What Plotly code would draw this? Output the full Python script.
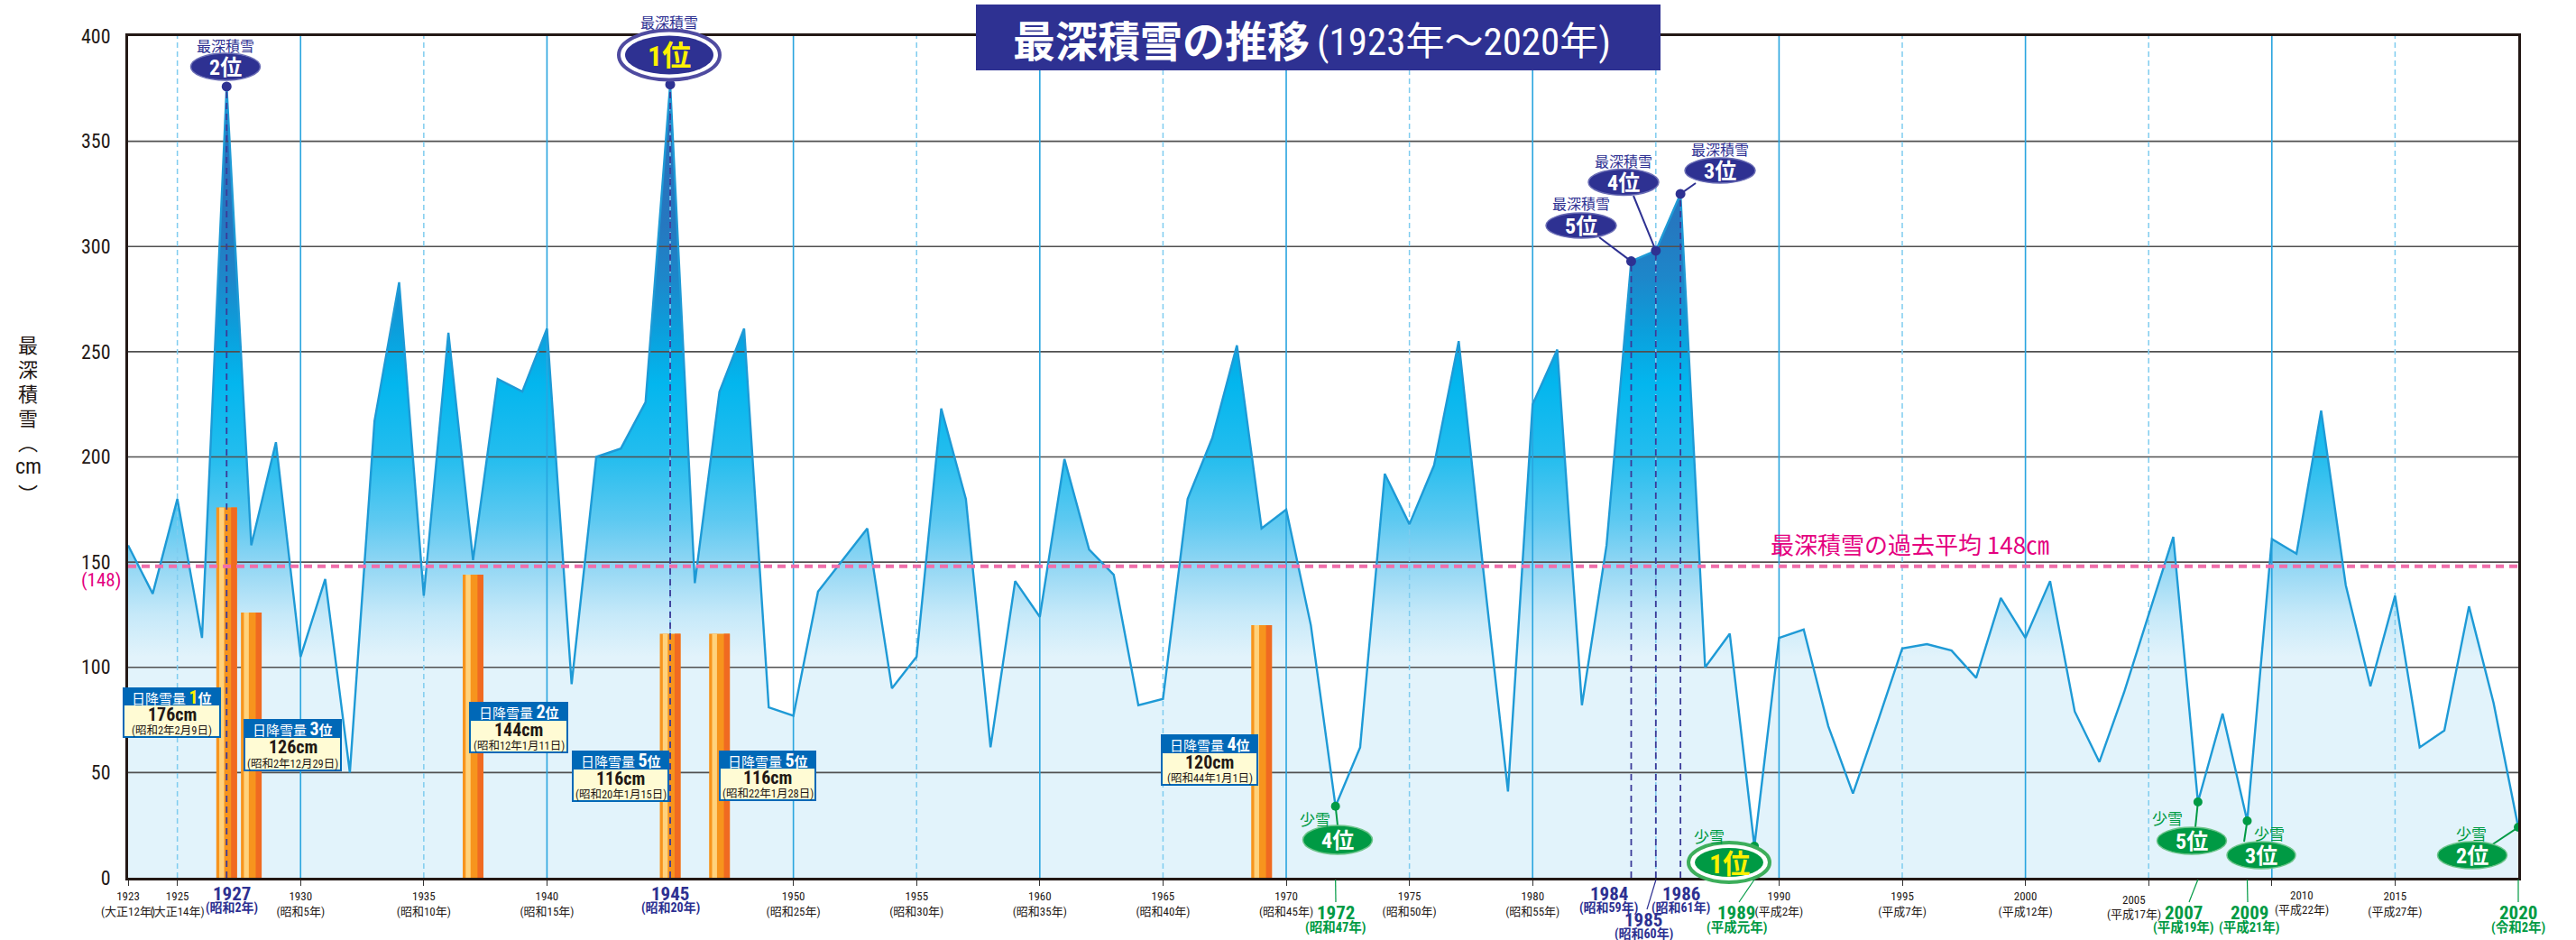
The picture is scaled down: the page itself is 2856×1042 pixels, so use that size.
import plotly.graph_objects as go

# ---------------- data ----------------
YEARS = list(range(1923, 2021))
DEPTH = [158, 135, 180, 114, 376, 158, 207, 105, 142, 50,
         217, 283, 134, 259, 151, 237, 231, 261, 92, 200,
         204, 226, 377, 140, 231, 261, 81, 77, 136, 151,
         166, 90, 105, 223, 180, 62, 141, 124, 199, 156,
         144, 82, 85, 180, 209, 253, 166, 175, 120, 34,
         62, 192, 168, 196, 255, 146, 41, 225, 251, 82,
         158, 293, 298, 325, 100, 116, 15, 114, 118, 72,
         40, 74, 109, 111, 108, 95, 133, 114, 141, 79,
         55, 88, 125, 162, 36, 78, 27, 161, 154, 222,
         139, 91, 134, 62, 70, 129, 83, 24]
assert len(DEPTH) == len(YEARS)
AVG = 148

DAILY_YEARS = [1927, 1928, 1937, 1945, 1947, 1969]
DAILY_VALUES = [176, 126, 144, 116, 116, 120]
DAILY_RANKS = [1, 3, 2, 5, 5, 4]
DAILY_DATES = ["(昭和2年2月9日)", "(昭和2年12月29日)", "(昭和12年1月11日)",
               "(昭和20年1月15日)", "(昭和22年1月28日)", "(昭和44年1月1日)"]

DEEP_YEARS = [1945, 1927, 1986, 1985, 1984]      # 最深積雪 1位..5位
DEEP_ERAS = ["昭和20年", "昭和2年", "昭和61年", "昭和60年", "昭和59年"]
LOW_YEARS = [1989, 2020, 2009, 1972, 2007]       # 少雪 1位..5位
LOW_ERAS = ["平成元年", "令和2年", "平成21年", "昭和47年", "平成19年"]

TICK_YEARS = [1923, 1925, 1930, 1935, 1940, 1950, 1955, 1960, 1965, 1970,
              1975, 1980, 1990, 1995, 2000, 2005, 2010, 2015]
TICK_ERAS = ["大正12年", "大正14年", "昭和5年", "昭和10年", "昭和15年", "昭和25年",
             "昭和30年", "昭和35年", "昭和40年", "昭和45年", "昭和50年", "昭和55年",
             "平成2年", "平成7年", "平成12年", "平成17年", "平成22年", "平成27年"]
# tick labels drawn off their gridline in the original (label centre in px, year-line y in px)
OFFSET_TICKS = {2005: (2366, 997), 2010: (2552, 992)}
Y_TICKS = [0, 50, 100, 150, 200, 250, 300, 350, 400]
GRID_SOLID = [1930, 1940, 1950, 1960, 1970, 1980, 1990, 2000, 2010]
GRID_DASH = [1925, 1935, 1945, 1955, 1965, 1975, 1985, 1995, 2005, 2015]

X0, X1 = 1923, 2020
Y0, Y1 = 0, 400
VAL = dict(zip(YEARS, DEPTH))

# ---------------- style ----------------
NARROW = "'Liberation Sans Narrow', 'Arial Narrow', 'Roboto Condensed', 'Noto Sans CJK JP', sans-serif"
JP = "'Noto Sans CJK JP', 'Noto Sans', sans-serif"
NAVY = "#2E3192"
GREEN = "#009A44"
PINK = "#E4007F"
LINEBLUE = "#1E9AD6"
INK = "#231815"

FIG_W, FIG_H = 2856, 1042
L, R, T, B = 142, 2792, 40, 973
W, H = R - L, B - T


def PX(X):
    return (X - L) / W


def PY(Y):
    return (B - Y) / H


def YR(X):
    return X0 + (X - L) / W * (X1 - X0)


def VY(Y):
    return (B - Y) / H * (Y1 - Y0)


shapes = []
annotations = []


def rect(x0, y0, x1, y1, fill, lc=None, lw=0):
    shapes.append(dict(type="rect", xref="paper", yref="paper", x0=PX(x0), x1=PX(x1),
                       y0=PY(y1), y1=PY(y0), fillcolor=fill,
                       line=dict(color=lc or fill, width=lw), layer="above"))


def ellipse(cx, cy, w, h, fill, lc=None, lw=0):
    shapes.append(dict(type="circle", xref="paper", yref="paper", x0=PX(cx - w / 2), x1=PX(cx + w / 2),
                       y0=PY(cy + h / 2), y1=PY(cy - h / 2), fillcolor=fill,
                       line=dict(color=lc or fill, width=lw), layer="above"))


def pline(xa, ya, xb, yb, color, width=1.5, dash="solid"):
    shapes.append(dict(type="line", xref="paper", yref="paper", x0=PX(xa), y0=PY(ya), x1=PX(xb), y1=PY(yb),
                       line=dict(color=color, width=width, dash=dash), layer="above"))


def dline(year, X, Y, color, width=2):
    shapes.append(dict(type="line", xref="x", yref="y", x0=year, y0=VAL[year], x1=YR(X), y1=VY(Y),
                       line=dict(color=color, width=width), layer="above"))


def text(X, Y, s, size, color, family=JP, xanchor="center", yanchor="middle"):
    annotations.append(dict(xref="paper", yref="paper", x=PX(X), y=PY(Y), text=s, showarrow=False,
                            font=dict(size=size, color=color, family=family),
                            xanchor=xanchor, yanchor=yanchor, borderpad=0))


# ---------------- traces ----------------
fig = go.Figure()

CS = [[0.0, "#E2F3FB"], [105 / 400, "#E2F3FB"], [125 / 400, "#C6E9F9"], [148 / 400, "#93D7F4"],
      [170 / 400, "#5DC9F1"], [200 / 400, "#24BDEE"], [235 / 400, "#03B6EE"], [260 / 400, "#0B9FDC"],
      [285 / 400, "#1D87CA"], [310 / 400, "#2578C0"], [1.0, "#2A6CB8"]]

fig.add_trace(go.Scatter(x=YEARS, y=DEPTH, mode="lines", fill="tozeroy",
                         fillgradient=dict(type="vertical", colorscale=CS, start=0, stop=400),
                         line=dict(width=0, color=LINEBLUE), hoverinfo="skip", showlegend=False))

# gridlines (drawn above the fill)
gx, gy = [], []
for v in Y_TICKS[1:-1]:
    gx += [X0, X1, None]
    gy += [v, v, None]
fig.add_trace(go.Scatter(x=gx, y=gy, mode="lines", line=dict(color="#505050", width=1.6),
                         hoverinfo="skip", showlegend=False))
sx, sy = [], []
for g in GRID_SOLID:
    sx += [g, g, None]
    sy += [Y0, Y1, None]
fig.add_trace(go.Scatter(x=sx, y=sy, mode="lines", line=dict(color="#2AA5DF", width=1.6),
                         hoverinfo="skip", showlegend=False))
dx, dy = [], []
for g in GRID_DASH:
    dx += [g, g, None]
    dy += [Y0, Y1, None]
fig.add_trace(go.Scatter(x=dx, y=dy, mode="lines", line=dict(color="#7FCCEF", width=1.5, dash="6px,4px"),
                         hoverinfo="skip", showlegend=False))

fig.add_trace(go.Scatter(x=YEARS, y=DEPTH, mode="lines", line=dict(color=LINEBLUE, width=2.4),
                         hoverinfo="skip", showlegend=False))

# overlay subplot: bars, average line, markers
fig.add_trace(go.Bar(x=DAILY_YEARS, y=DAILY_VALUES, width=0.84, marker=dict(color="#F7941D", line=dict(width=0)),
                     xaxis="x2", yaxis="y2", hoverinfo="skip", showlegend=False))
fig.add_trace(go.Bar(x=DAILY_YEARS, y=DAILY_VALUES, width=0.2, offset=-0.3,
                     marker=dict(color="#FFD27C", line=dict(width=0)),
                     xaxis="x2", yaxis="y2", hoverinfo="skip", showlegend=False))
fig.add_trace(go.Bar(x=DAILY_YEARS, y=DAILY_VALUES, width=0.24, offset=0.18,
                     marker=dict(color="#F06A21", line=dict(width=0)),
                     xaxis="x2", yaxis="y2", hoverinfo="skip", showlegend=False))

fig.add_trace(go.Scatter(x=[X0, X1], y=[AVG, AVG], mode="lines",
                         line=dict(color="#F06EAA", width=4, dash="9px,6px"),
                         xaxis="x2", yaxis="y2", hoverinfo="skip", showlegend=False))

nx, ny = [], []
for yr in DEEP_YEARS:
    nx += [yr, yr, None]
    ny += [0, VAL[yr], None]
fig.add_trace(go.Scatter(x=nx, y=ny, mode="lines", line=dict(color="#3B3A98", width=1.8, dash="7px,5px"),
                         xaxis="x2", yaxis="y2", hoverinfo="skip", showlegend=False))
fig.add_trace(go.Scatter(x=DEEP_YEARS, y=[VAL[y] for y in DEEP_YEARS], mode="markers",
                         marker=dict(color=NAVY, size=11), xaxis="x2", yaxis="y2",
                         hoverinfo="skip", showlegend=False))
fig.add_trace(go.Scatter(x=LOW_YEARS, y=[VAL[y] for y in LOW_YEARS], mode="markers",
                         marker=dict(color=GREEN, size=10), xaxis="x2", yaxis="y2",
                         hoverinfo="skip", showlegend=False))

# ---------------- decorations ----------------
# title
rect(1082, 5, 1841, 78, NAVY)
text(1453, 43, "<b>最深積雪の推移</b>", 47, "white", JP, xanchor="right")
text(1459, 46, "(1923年〜2020年)", 43, "white", NARROW, xanchor="left")

# y axis title (vertical)
for ch, yy, fs, fam in [("最", 381, 22, JP), ("深", 408, 22, JP), ("積", 435, 22, JP), ("雪", 462, 22, JP),
                        ("︵", 489, 22, JP), ("cm", 517, 24, NARROW), ("︶", 546, 22, JP)]:
    text(31, yy, ch, fs, INK, fam)

# (148)
text(112, 643, "(148)", 21, PINK, NARROW)
# average label
text(2117, 602, "最深積雪の過去平均 148㎝", 26, PINK, JP)

# tick labels that sit off their gridline
for yr, era in zip(TICK_YEARS, TICK_ERAS):
    if yr in OFFSET_TICKS:
        lx, ly = OFFSET_TICKS[yr]
        text(lx, ly, str(yr), 13, INK, NARROW)
        text(lx, ly + 16, f"({era})", 13, INK, NARROW)

# daily snowfall boxes
BOXES = [(137, 244, 763, 781, 817), (271, 378, 798, 817, 854), (521, 629, 779, 798, 834),
         (635, 741, 833, 852, 888), (798, 904, 833, 851, 887), (1288, 1394, 815, 834, 870)]
for (bx0, bx1, hy0, hy1, by1), rank, val, date in zip(BOXES, DAILY_RANKS, DAILY_VALUES, DAILY_DATES):
    rect(bx0, hy0, bx1, by1, "#FFFBD4", "#0068B7", 2)
    rect(bx0, hy0, bx1, hy1, "#0068B7", "#0068B7", 2)
    cx = (bx0 + bx1) / 2
    numcol = "#FFF100" if rank == 1 else "white"
    text(cx, (hy0 + hy1) / 2 + 0.5,
         f"日降雪量 <b><span style='font-size:20px;color:{numcol}'>{rank}</span>位</b>", 15, "white", NARROW)
    text(cx, hy1 + 11, f"<b>{val}cm</b>", 20, INK, NARROW)
    text(cx, by1 - 8, date, 12.5, INK, NARROW)

# navy badges (最深積雪)
NAVY_BADGES = [  # year, cx, cy, w, h, label_y, connector end
    (1927, 250, 74, 77, 30, 50, None),
    (1945, 742, 61, 112, 55, 24, None),
    (1984, 1753, 250, 78, 28, 225, (1773, 263)),
    (1985, 1800, 202, 78, 29, 178, (1811, 217)),
    (1986, 1907, 189, 78, 28, 165, (1880, 203)),
]
for yr, cx, cy, w, h, ly, conn in NAVY_BADGES:
    rank = DEEP_YEARS.index(yr) + 1
    if conn:
        dline(yr, conn[0], conn[1], NAVY, 2)
    if rank == 1:
        ellipse(cx, cy, w, h, "white", "#4F4BA0", 4)
        ellipse(cx, cy, w - 14, h - 12, NAVY)
        text(cx, cy + 1, f"<b>{rank}位</b>", 32, "#FFF100", NARROW)
    else:
        ellipse(cx, cy, w, h, NAVY, "#6A6DB5", 1.5)
        text(cx, cy + 1, f"<b>{rank}位</b>", 24, "white", NARROW)
    text(cx, ly, "最深積雪", 16, NAVY, JP)

# green badges (少雪)
GREEN_BADGES = [
    (1972, 1483, 931, 77, 32, (1458, 907), (1483, 915)),
    (1989, 1917, 956, 90, 44, (1895, 926), None),
    (2007, 2430, 932, 77, 30, (2403, 906), (2434, 917)),
    (2009, 2507, 948, 76, 30, (2516, 923), (2488, 933)),
    (2020, 2741, 948, 77, 30, (2740, 923), (2762, 937)),
]
for yr, cx, cy, w, h, lpos, conn in GREEN_BADGES:
    rank = LOW_YEARS.index(yr) + 1
    if conn:
        dline(yr, conn[0], conn[1], GREEN, 2)
    if rank == 1:
        ellipse(cx, cy, w, h, "white", "#3DAE5B", 4)
        ellipse(cx, cy, w - 14, h - 12, GREEN)
        text(cx, cy + 1, f"<b>{rank}位</b>", 30, "#FFF100", NARROW)
    else:
        ellipse(cx, cy, w, h, GREEN, "#6CC48A", 1.5)
        text(cx, cy + 1, f"<b>{rank}位</b>", 24, "white", NARROW)
    text(lpos[0], lpos[1], "少雪", 17, GREEN, JP)

# special year labels below the axis
NAVY_LABELS = {1927: (257, 991), 1945: (743, 991), 1984: (1784, 991), 1985: (1822, 1020), 1986: (1864, 991)}
for yr, era in zip(DEEP_YEARS, DEEP_ERAS):
    lx, lyy = NAVY_LABELS[yr]
    text(lx, lyy, f"<b>{yr}</b>", 21, NAVY, NARROW)
    text(lx, lyy + 15, f"<b>({era})</b>", 14, NAVY, NARROW)
pline(1836, 975, 1826, 1008, NAVY, 1.2)

GREEN_LABELS = {1972: (1481, 1012), 1989: (1925, 1012), 2007: (2421, 1012), 2009: (2494, 1012), 2020: (2792, 1012)}
GREEN_TICKS = {1972: (1481, 1000), 1989: (1928, 1000), 2007: (2427, 1000), 2009: (2492, 1000), 2020: (2792, 1000)}
for yr, era in zip(LOW_YEARS, LOW_ERAS):
    lx, lyy = GREEN_LABELS[yr]
    text(lx, lyy, f"<b>{yr}</b>", 21, GREEN, NARROW)
    text(lx, lyy + 16, f"<b>({era})</b>", 14.5, GREEN, NARROW)
    tx = L + (yr - X0) / (X1 - X0) * W
    ex, ey = GREEN_TICKS[yr]
    pline(tx, 975, ex, ey, GREEN, 1.2)

# ---------------- layout ----------------
fig.update_layout(
    width=FIG_W, height=FIG_H,
    margin=dict(l=L, r=FIG_W - R, t=T, b=FIG_H - B),
    paper_bgcolor="white", plot_bgcolor="white",
    barmode="overlay",
    showlegend=False,
    font=dict(family=NARROW, color=INK),
    xaxis=dict(range=[X0, X1], tickvals=TICK_YEARS,
               ticktext=["" if y in OFFSET_TICKS else f"{y}<br>({e})" for y, e in zip(TICK_YEARS, TICK_ERAS)],
               tickfont=dict(size=13, family=NARROW, color=INK), tickangle=0,
               ticks="outside", ticklen=6, tickcolor="#333333", tickwidth=1.2,
               showgrid=False, zeroline=False, showline=True, mirror=True,
               linecolor=INK, linewidth=3),
    yaxis=dict(range=[Y0, Y1], tickvals=Y_TICKS, tickfont=dict(size=22, family=NARROW, color=INK),
               ticks="", ticklabelstandoff=12, showgrid=False, zeroline=False,
               showline=True, mirror=True, linecolor=INK, linewidth=3),
    xaxis2=dict(overlaying="x", range=[X0, X1], visible=False),
    yaxis2=dict(overlaying="y", range=[Y0, Y1], visible=False),
    shapes=shapes,
    annotations=annotations,
)

fig.write_html("out.html", config={"displayModeBar": False},
               post_script="document.body.style.margin='0';document.body.style.overflow='hidden';")
